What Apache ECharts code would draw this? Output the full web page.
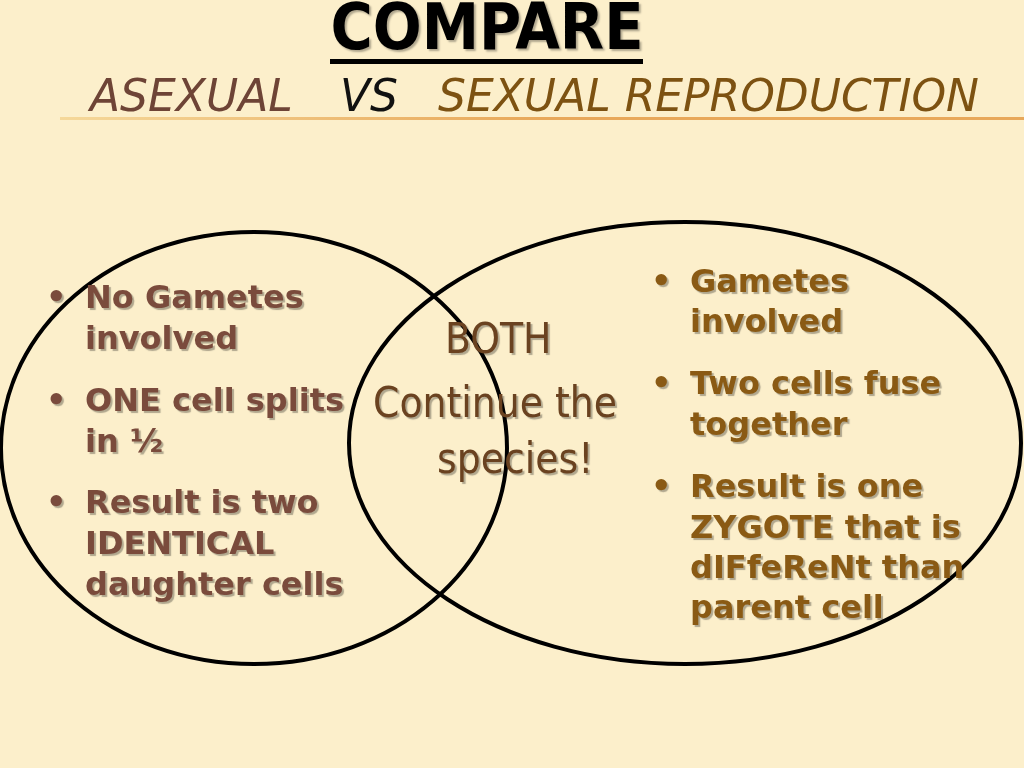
<!DOCTYPE html>
<html><head><meta charset="utf-8">
<script src="https://cdn.jsdelivr.net/npm/echarts@6/dist/echarts.min.js"></script>
<style>html,body{margin:0;padding:0;background:#fcefcb}#c{width:1024px;height:768px}</style>
</head><body><div id="c"></div>
<script>
const title = "COMPARE";
const subtitleLeft = "ASEXUAL";
const subtitleMid = "VS";
const subtitleRight = "SEXUAL REPRODUCTION";
const leftLines = [["•","No Gametes"],["","involved"],["•","ONE cell splits"],["","in ½"],["•","Result is two"],["","IDENTICAL"],["","daughter cells"]];
const leftY = [300,341,403,444,505,546,587];
const rightLines = [["•","Gametes"],["","involved"],["•","Two cells fuse"],["","together"],["•","Result is one"],["","ZYGOTE that is"],["","dIFfeReNt than"],["","parent cell"]];
const rightY = [284,324,386,427,489,530,570,610];
const centerLines = [["BOTH",445,342],["Continue the",373,406],["species!",437,462]];

const chart = echarts.init(document.getElementById('c'));
const g = [];
g.push({type:'rect',shape:{x:0,y:0,width:1024,height:768},style:{fill:'#fcefcb'},z:0});
g.push({type:'text',x:487,y:32,style:{text:title,font:'bold 64px "Liberation Sans Narrow", "DejaVu Sans Condensed", sans-serif',fill:'#000',align:'center',verticalAlign:'middle',textShadowColor:'rgba(0,0,0,0.3)',textShadowOffsetX:2,textShadowOffsetY:2,textShadowBlur:2},z:5});
g.push({type:'rect',shape:{x:330,y:59,width:313,height:5},style:{fill:'#000'},z:5});
g.push({type:'rect',shape:{x:60,y:117,width:964,height:3},style:{fill:new echarts.graphic.LinearGradient(0,0,1,0,[{offset:0,color:'#f5d89a'},{offset:0.5,color:'#e8a85a'},{offset:1,color:'#e8a85a'}])},z:5});
const subFont='italic 44px "DejaVu Sans", sans-serif';
const ssh={textShadowColor:'rgba(0,0,0,0.35)',textShadowOffsetX:2,textShadowOffsetY:2};
g.push({type:'text',x:90,y:100,style:Object.assign({text:subtitleLeft,font:subFont,fill:'#6e4436',verticalAlign:'middle'},ssh),z:5});
g.push({type:'text',x:340,y:100,style:Object.assign({text:subtitleMid,font:subFont,fill:'#111',verticalAlign:'middle'},ssh),z:5});
g.push({type:'text',x:438,y:100,style:Object.assign({text:subtitleRight,font:subFont,fill:'#7d5212',verticalAlign:'middle'},ssh),z:5});
g.push({type:'ellipse',shape:{cx:254,cy:448,rx:253,ry:216},style:{fill:'none',stroke:'#000',lineWidth:4},z:3});
g.push({type:'ellipse',shape:{cx:685,cy:443,rx:336,ry:221},style:{fill:'none',stroke:'#000',lineWidth:4},z:3});
const bodyFont='bold 32px "DejaVu Sans", sans-serif';
const sh={textShadowColor:'rgba(0,0,0,0.3)',textShadowOffsetX:2,textShadowOffsetY:2,textShadowBlur:1};
leftLines.forEach((l,i)=>{
  if(l[0]) g.push({type:'text',x:46,y:leftY[i],style:Object.assign({text:l[0],font:bodyFont,fill:'#7a4b3c',verticalAlign:'middle'},sh),z:5});
  g.push({type:'text',x:85,y:leftY[i],style:Object.assign({text:l[1],font:bodyFont,fill:'#7a4b3c',verticalAlign:'middle'},sh),z:5});
});
rightLines.forEach((l,i)=>{
  if(l[0]) g.push({type:'text',x:651,y:rightY[i],style:Object.assign({text:l[0],font:bodyFont,fill:'#8a5a14',verticalAlign:'middle'},sh),z:5});
  g.push({type:'text',x:690,y:rightY[i],style:Object.assign({text:l[1],font:bodyFont,fill:'#8a5a14',verticalAlign:'middle'},sh),z:5});
});
centerLines.forEach(c=>{
  g.push({type:'text',x:c[1],y:c[2],style:Object.assign({text:c[0],font:'42px "Liberation Sans Narrow", "DejaVu Sans Condensed", sans-serif',fill:'#6a4220',verticalAlign:'middle'},sh),z:5});
});
chart.setOption({backgroundColor:'#fcefcb',animation:false,graphic:{elements:g}});
</script></body></html>
